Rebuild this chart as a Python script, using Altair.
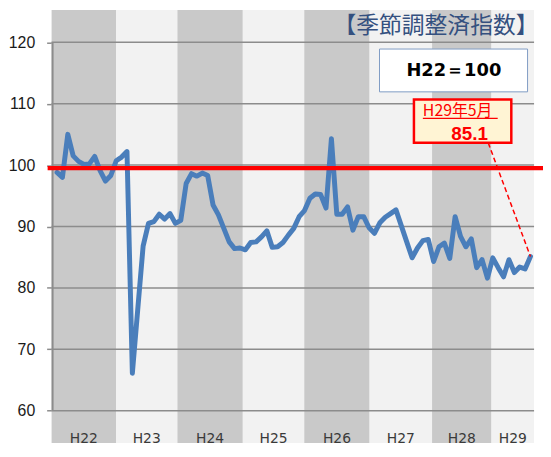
import altair as alt
import pandas as pd

# ---- data -------------------------------------------------------------
# monthly seasonally adjusted index, H22.1 (Jan 2010) .. H29.5 (May 2017)
values = [
    98.8, 98.0, 105.0, 101.5, 100.6, 100.1, 100.2, 101.4, 99.1, 97.4, 98.3, 100.7,   # H22
    101.3, 102.2, 66.1, 76.5, 86.8, 90.5, 90.8, 92.0, 91.2, 92.1, 90.5, 91.0,         # H23
    97.0, 98.6, 98.2, 98.7, 98.3, 93.5, 91.9, 89.7, 87.5, 86.4, 86.5, 86.2,           # H24
    87.4, 87.5, 88.3, 89.3, 86.6, 86.7, 87.4, 88.6, 89.7, 91.6, 92.6, 94.6,           # H25
    95.3, 95.2, 93.0, 104.3, 92.0, 92.0, 93.2, 89.4, 91.6, 91.6, 89.8, 88.9,          # H26
    90.6, 91.5, 92.1, 92.7, 90.1, 87.5, 84.9, 86.5, 87.7, 87.9, 84.3, 86.7,           # H27
    87.3, 84.8, 91.6, 88.4, 86.7, 88.0, 83.3, 84.6, 81.6, 84.9, 83.3, 81.8,           # H28
    84.6, 82.5, 83.4, 83.1, 85.1,                                                      # H29
]
year_labels = ["H22", "H23", "H24", "H25", "H26", "H27", "H28", "H29"]
# background year band edges, in month-index units
band_edges = [-1.013, 10.958, 22.376, 34.53, 45.95, 58.10, 69.71, 80.76, 88.67]
band_colors = ["#c9c9c9", "#f2f2f2"]
y_ticks = [60, 70, 80, 90, 100, 110, 120]
base_value = 99.5
title_text = "【季節調整済指数】"
base_text = "H22＝100"
callout_title = "H29年5月"
callout_value = "85.1"

# ---- geometry ---------------------------------------------------------
W, H = 496, 437
x_dom = [-1.013, 90.331]
y_dom = [54.758, 125.242]
xs = alt.Scale(domain=x_dom, nice=False, zero=False)
ys = alt.Scale(domain=y_dom, nice=False, zero=False)
yax = alt.Axis(values=y_ticks, grid=False, domain=False, tickSize=5, tickWidth=1.5,
               tickColor="#8c8c8c", labelFontSize=16, labelFont="Liberation Sans",
               labelColor="#1a1a1a", labelPadding=12, title=None)

line_df = pd.DataFrame({"i": list(range(len(values))), "v": values})
bands_df = pd.DataFrame({
    "x0": band_edges[:-1], "x1": band_edges[1:],
    "c": [band_colors[k % 2] for k in range(len(band_edges) - 1)],
    "lab": year_labels,
})
bands_df["xm"] = (bands_df["x0"] + bands_df["x1"]) / 2
bands_df["ly"] = 55.4

grid_df = pd.DataFrame({"v": y_ticks, "xa": band_edges[0], "xb": band_edges[-1]})

bands = alt.Chart(bands_df).mark_rect().encode(
    x=alt.X("x0:Q", scale=xs, axis=None), x2="x1:Q",
    y=alt.value(0), y2=alt.value(H),
    color=alt.Color("c:N", scale=None),
)
xlabels = alt.Chart(bands_df).mark_text(font="DejaVu Sans", fontSize=14, color="#3a3a3a",
                                         baseline="middle", align="center").encode(
    x=alt.X("xm:Q", scale=xs, axis=None),
    y=alt.Y("ly:Q", scale=ys, axis=yax),
    text="lab:N",
)
grid = alt.Chart(grid_df).mark_rule(color="#8c8c8c", strokeWidth=1.5).encode(
    x=alt.X("xa:Q", scale=xs, axis=None), x2="xb:Q",
    y=alt.Y("v:Q", scale=ys, axis=yax),
)
axis_df = pd.DataFrame({"x": [-0.83], "y0": [y_ticks[0]], "y1": [y_ticks[-1]]})
axis_line = alt.Chart(axis_df).mark_rule(color="#8c8c8c", strokeWidth=2).encode(
    x=alt.X("x:Q", scale=xs, axis=None),
    y=alt.Y("y0:Q", scale=ys, axis=yax), y2="y1:Q",
)
line = alt.Chart(line_df).mark_line(color="#4a7ebb", strokeWidth=5, strokeJoin="round",
                                    strokeCap="round").encode(
    x=alt.X("i:Q", scale=xs, axis=None),
    y=alt.Y("v:Q", scale=ys, axis=yax),
)
red_df = pd.DataFrame({"x0": [-1.75], "x1": [x_dom[1]], "v": [base_value]})
red = alt.Chart(red_df).mark_rule(color="#ff0000", strokeWidth=4.5).encode(
    x=alt.X("x0:Q", scale=xs, axis=None), x2="x1:Q",
    y=alt.Y("v:Q", scale=ys, axis=yax),
)

# annotations (positions in data units)
title_df = pd.DataFrame({"x": [70.44], "y": [122.6], "t": [title_text]})
title = alt.Chart(title_df).mark_text(font="Noto Sans CJK JP", fontSize=23, color="#34507f",
                                      align="center", baseline="middle").encode(
    x=alt.X("x:Q", scale=xs, axis=None), y=alt.Y("y:Q", scale=ys, axis=yax), text="t:N")

box_df = pd.DataFrame({"x0": [59.94], "x1": [87.46], "y0": [111.92], "y1": [118.89]})
box = alt.Chart(box_df).mark_rect(fill="white", stroke="#7f9cc4", strokeWidth=1).encode(
    x=alt.X("x0:Q", scale=xs, axis=None), x2="x1:Q",
    y=alt.Y("y0:Q", scale=ys, axis=yax), y2="y1:Q")
box_txt_df = pd.DataFrame({"x": [73.76], "y": [115.32], "t": [base_text]})
box_txt = alt.Chart(box_txt_df).mark_text(font="DejaVu Sans", fontSize=18, fontWeight="bold",
                                          color="black", align="center", baseline="middle").encode(
    x=alt.X("x:Q", scale=xs, axis=None), y=alt.Y("y:Q", scale=ys, axis=yax), text="t:N")

co_df = pd.DataFrame({"x0": [66.34], "x1": [84.44], "y0": [103.63], "y1": [110.68]})
co = alt.Chart(co_df).mark_rect(fill="#fff4d4", stroke="#ff0000", strokeWidth=2.5).encode(
    x=alt.X("x0:Q", scale=xs, axis=None), x2="x1:Q",
    y=alt.Y("y0:Q", scale=ys, axis=yax), y2="y1:Q")
co_t1_df = pd.DataFrame({"x": [68.0], "y": [108.74], "t": [callout_title]})
co_t1 = alt.Chart(co_t1_df).mark_text(font="Noto Sans CJK JP", fontSize=16, color="#ff0000",
                                      align="left", baseline="middle").encode(
    x=alt.X("x:Q", scale=xs, axis=None), y=alt.Y("y:Q", scale=ys, axis=yax), text="t:N")
ul_df = pd.DataFrame({"x0": [68.0], "x1": [81.91], "y": [107.61]})
ul = alt.Chart(ul_df).mark_rule(color="#ff0000", strokeWidth=1.2).encode(
    x=alt.X("x0:Q", scale=xs, axis=None), x2="x1:Q",
    y=alt.Y("y:Q", scale=ys, axis=yax))
co_t2_df = pd.DataFrame({"x": [76.7], "y": [105.13], "t": [callout_value]})
co_t2 = alt.Chart(co_t2_df).mark_text(font="Liberation Sans", fontSize=19, fontWeight="bold",
                                      color="#ff0000", align="center", baseline="middle").encode(
    x=alt.X("x:Q", scale=xs, axis=None), y=alt.Y("y:Q", scale=ys, axis=yax), text="t:N")
lead_df = pd.DataFrame({"x0": [80.15], "x1": [len(values) - 1], "y0": [103.63], "y1": [values[-1]]})
lead = alt.Chart(lead_df).mark_rule(color="#ff0000", strokeWidth=1.5, strokeDash=[5, 3]).encode(
    x=alt.X("x0:Q", scale=xs, axis=None), x2="x1:Q",
    y=alt.Y("y0:Q", scale=ys, axis=yax), y2="y1:Q")

chart = alt.layer(
    bands, grid, axis_line, xlabels, line, red, title, box, box_txt, lead, co, co_t1, ul, co_t2
).properties(
    width=W, height=H,
    padding={"left": 44, "top": 0, "right": 0, "bottom": 0},
    autosize=alt.AutoSizeParams(type="none"),
    background="white",
).configure_view(stroke=None)

chart.save("out.html", embed_options={"renderer": "svg", "actions": False})
